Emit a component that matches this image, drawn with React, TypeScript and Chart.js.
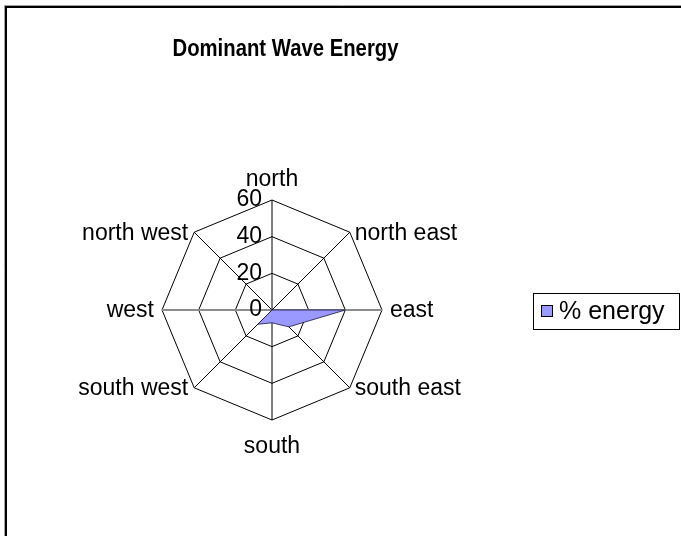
import React, { useEffect, useRef } from "react";
import { Chart, registerables } from "chart.js";

Chart.register(...registerables);

const categories = ["north", "north east", "east", "south east", "south", "south west", "west", "north west"];
const energyValues = [0, 0, 40, 13, 7, 11, 0, 0];
const tickValues = [0, 20, 40, 60];
const seriesLabel = "% energy";
const titleText = "Dominant Wave Energy";

const FONT = "'Liberation Sans', Arial, sans-serif";
const LABEL_SIZE = 23;
const FILL = "#9999ff";

export default function App() {
  const ref = useRef<HTMLCanvasElement | null>(null);

  useEffect(() => {
    document.body.style.margin = "0";
    const canvas = ref.current;
    if (!canvas) return;

    const CX = 272;
    const CY = 310;
    const R = 110;

    const framePlugin = {
      id: "frame",
      beforeDraw(chart: any) {
        const ctx = chart.ctx;
        ctx.save();
        ctx.fillStyle = "#ffffff";
        ctx.fillRect(0, 0, chart.width, chart.height);
        ctx.strokeStyle = "#a0a0a0";
        ctx.lineWidth = 1;
        ctx.beginPath();
        ctx.moveTo(4.5, chart.height);
        ctx.lineTo(4.5, 5.5);
        ctx.lineTo(chart.width, 5.5);
        ctx.stroke();
        ctx.strokeStyle = "#000000";
        ctx.lineWidth = 2;
        ctx.beginPath();
        ctx.moveTo(6, chart.height);
        ctx.lineTo(6, 7);
        ctx.lineTo(chart.width, 7);
        ctx.stroke();
        // title
        ctx.font = `bold 23px ${FONT}`;
        ctx.fillStyle = "#000";
        ctx.textAlign = "left";
        ctx.textBaseline = "alphabetic";
        const w = ctx.measureText(titleText).width;
        const targetW = 226;
        const sx = targetW / w;
        ctx.translate(285.5 - targetW / 2, 56);
        ctx.scale(sx, 1);
        ctx.fillText(titleText, 0, 0);
        ctx.restore();
      },
    };

    const labelPlugin = {
      id: "radarText",
      afterDatasetsDraw(chart: any) {
        const scale = chart.scales.r;
        const ctx = chart.ctx;
        ctx.save();
        ctx.fillStyle = "#000";
        ctx.font = `${LABEL_SIZE}px ${FONT}`;
        categories.forEach((label, i) => {
          const p = scale.getPointPosition(i, scale.drawingArea);
          const dx = p.x - scale.xCenter;
          const dy = p.y - scale.yCenter;
          let x = p.x;
          let y = p.y;
          if (Math.abs(dx) < 1) {
            ctx.textAlign = "center";
            ctx.textBaseline = "alphabetic";
            y = dy < 0 ? p.y - 14 : p.y + 33;
          } else if (dx > 0) {
            ctx.textAlign = "left";
            ctx.textBaseline = "middle";
            x = p.x + (Math.abs(dy) < 1 ? 8 : 5);
            y = p.y + 1;
          } else {
            ctx.textAlign = "right";
            ctx.textBaseline = "middle";
            x = p.x - (Math.abs(dy) < 1 ? 8 : 6);
            y = p.y + 1;
          }
          ctx.fillText(label, x, y);
        });
        ctx.textAlign = "right";
        ctx.textBaseline = "middle";
        tickValues.forEach((v) => {
          const d = scale.getDistanceFromCenterForValue(v);
          ctx.fillText(String(v), scale.xCenter - 10, scale.yCenter - d);
        });
        // legend
        const lx = 533, ly = 293, lw = 146, lh = 36;
        ctx.strokeStyle = "#000";
        ctx.lineWidth = 1;
        ctx.strokeRect(lx + 0.5, ly + 0.5, lw, lh);
        ctx.fillStyle = FILL;
        ctx.fillRect(542, 306, 10, 10);
        ctx.strokeStyle = "#000";
        ctx.strokeRect(541.5, 305.5, 11, 11);
        ctx.fillStyle = "#000";
        ctx.font = `25px ${FONT}`;
        ctx.textAlign = "left";
        ctx.textBaseline = "middle";
        ctx.fillText(chart.data.datasets[0].label, 559, 312);
        ctx.restore();
      },
    };

    const chart = new Chart(canvas, {
      type: "radar",
      data: {
        labels: categories,
        datasets: [
          {
            label: seriesLabel,
            data: energyValues,
            backgroundColor: FILL,
            borderColor: "rgba(20,20,60,0.8)",
            borderWidth: 1,
            fill: true,
            pointRadius: 0,
            pointHoverRadius: 0,
          },
        ],
      },
      options: {
        responsive: false,
        animation: false,
        devicePixelRatio: 1,
        events: [],
        layout: { padding: 0 },
        plugins: {
          legend: { display: false },
          tooltip: { enabled: false },
          title: { display: false },
        },
        scales: {
          r: {
            min: 0,
            max: 60,
            beginAtZero: true,
            ticks: { display: false, stepSize: 20 },
            pointLabels: { display: false },
            grid: { color: "#000", lineWidth: 1 },
            angleLines: {
              color: (ctx: any) => (ctx.index === 2 || ctx.index === 6 ? "#8c8c8c" : "#000"),
              lineWidth: (ctx: any) => (ctx.index === 2 || ctx.index === 6 ? 2 : 1),
            },
            afterFit: (scale: any) => {
              scale.xCenter = CX;
              scale.yCenter = CY;
              scale.drawingArea = R;
            },
          },
        },
      },
      plugins: [framePlugin, labelPlugin],
    });

    return () => {
      chart.destroy();
    };
  }, []);

  return (
    <div style={{ position: "relative", width: 681, height: 536 }}>
      <canvas ref={ref} width={681} height={536} style={{ display: "block" }} />
    </div>
  );
}
